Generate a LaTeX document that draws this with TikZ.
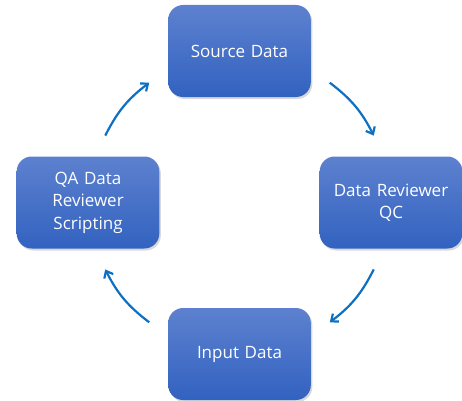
\documentclass[tikz,border=0pt]{standalone}
\usepackage{fontspec}
\setmainfont{Open Sans}
\usetikzlibrary{arrows.meta, shadows, calc}

\definecolor{boxtop}{RGB}{93,129,207}
\definecolor{boxbottom}{RGB}{50,98,192}
\definecolor{flowblue}{RGB}{14,112,194}

\begin{document}
\begin{tikzpicture}[x=1pt, y=1pt,
        stagebox/.style={rounded corners=15pt, top color=boxtop, bottom color=boxbottom,
            minimum width=141pt, minimum height=92pt, text width=136pt, align=center,
            text=white, font=\fontsize{17}{22.5}\selectfont,
            drop shadow={opacity=0.3, shadow xshift=1.5pt, shadow yshift=-2pt}},
        flow/.style={draw=flowblue, line width=2.2pt, -{Straight Barb[length=6pt, width=10pt, line width=2.2pt]}}]
        \useasboundingbox (0,0) rectangle (462,400);
        \node[stagebox] (src) at (239.5,349) {Source Data};
        \node[stagebox] (qc) at (391,197.5) {Data Reviewer\\QC};
        \node[stagebox] (inp) at (239.5,46) {Input Data};
        \node[stagebox] (qa) at (88,197.5) {QA Data\\Reviewer\\Scripting};
        \coordinate (hub) at (239.5,197.5);
        \coordinate (qaout) at ($(hub)+(153.5:150)$);
        \coordinate (srcin) at ($(hub)+(127:150)$);
        \coordinate (srcout) at ($(hub)+(53:150)$);
        \coordinate (qcin) at ($(hub)+(26.5:150)$);
        \coordinate (qcout) at ($(hub)+(-26.5:150)$);
        \coordinate (inpin) at ($(hub)+(-53:150)$);
        \coordinate (inpout) at ($(hub)+(-127:150)$);
        \coordinate (qain) at ($(hub)+(-153.5:150)$);
        \draw[flow] (qaout) to[bend left=13] (srcin);
        \draw[flow] (srcout) to[bend left=13] (qcin);
        \draw[flow] (qcout) to[bend left=13] (inpin);
        \draw[flow] (inpout) to[bend left=13] (qain);
    \end{tikzpicture}
\end{document}
